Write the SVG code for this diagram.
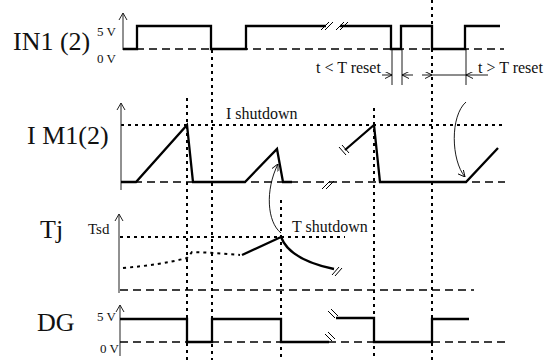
<svg xmlns="http://www.w3.org/2000/svg" width="551" height="360" viewBox="0 0 551 360">
<style>
text{font-family:"Liberation Serif","Times New Roman",serif;fill:#111}
.big{font-size:26px}
.sm{font-size:13px}
.md{font-size:16px}
.axis{stroke:#222;stroke-width:1;fill:none}
.sig{stroke:#000;stroke-width:2.3;fill:none;stroke-linejoin:miter}
.base{stroke:#000;stroke-width:1.7;stroke-dasharray:8,5;fill:none}
.dot{stroke:#000;stroke-width:2;stroke-dasharray:3,4;fill:none}
.thin{stroke:#000;stroke-width:0.9;fill:none}
.brk{stroke:#000;stroke-width:1;fill:none}
</style>
<defs>
<marker id="ah" viewBox="0 0 10 10" refX="10" refY="5" markerWidth="7" markerHeight="7" orient="auto" markerUnits="userSpaceOnUse">
<path d="M0,0 L10,5 L0,10" fill="none" stroke="#000" stroke-width="1.3"/>
</marker>
</defs>

<g id="guides">
<line class="dot" x1="187" y1="98" x2="187" y2="360"/>
<line class="dot" x1="212" y1="50" x2="212" y2="360"/>
<line class="dot" x1="281" y1="200" x2="281" y2="360"/>
<line class="dot" x1="374" y1="108" x2="374" y2="360"/>
<line class="dot" x1="432" y1="0" x2="432" y2="360"/>
<line class="dot" x1="121" y1="125" x2="505" y2="125"/>
<line class="dot" x1="120" y1="237" x2="345" y2="237"/>
</g>

<g id="in1">
<text class="big" x="13" y="50">IN1 (2)</text>
<text class="sm" x="97" y="36">5 V</text>
<text class="sm" x="97" y="63">0 V</text>
<line class="axis" x1="123" y1="50" x2="123" y2="13"/>
<path class="axis" d="M119,20 L123,13 L127,20"/>
<line class="base" x1="123" y1="49" x2="504" y2="49"/>
<path class="sig" d="M123,49 H137 V26 H211 V49 H246 V26 H326"/>
<path class="sig" d="M340,26 H391 V49 H401 V26 H432 V49 H465 V26 H500"/>
<path class="brk" d="M321,30 L329,22 M325,30 L333,22 M336,30 L344,22 M340,30 L348,22"/>
</g>

<g id="im1">
<text class="big" x="27" y="144">I M1(2)</text>
<text class="md" x="226" y="119">I shutdown</text>
<line class="axis" x1="121" y1="190" x2="121" y2="103"/>
<path class="axis" d="M117,110 L121,103 L125,110"/>
<line class="base" x1="121" y1="182" x2="505" y2="182"/>
<path class="sig" d="M121,182 H136 L187,125 L193,182 H245 L277,149 L283,182 H292"/>
<path class="sig" d="M345,150 L374,125 L380,182 H466 L498,148"/>
<path class="brk" d="M322,189 L330,181 M326,189 L334,181"/>
<path class="brk" d="M339,147 L346,155 M342,145 L349,153"/>
</g>

<g id="tj">
<text class="big" x="40" y="238">Tj</text>
<text class="md" x="88" y="234" style="font-size:15px">Tsd</text>
<text class="md" x="292" y="232">T shutdown</text>
<line class="axis" x1="119" y1="293" x2="119" y2="214"/>
<path class="axis" d="M115,221 L119,214 L123,221"/>
<line class="base" x1="120" y1="290" x2="474" y2="290"/>
<path class="dot" stroke-width="1.5" d="M123,268 Q160,265 187,258 L192,252 L215,253 L240,255"/>
<path class="sig" d="M242,255 L281,237 C286,250 300,262 334,269"/>
<path class="brk" d="M332,275 L339,267 M335,276 L342,268"/>
</g>

<g id="dg">
<text class="big" x="37" y="331">DG</text>
<text class="sm" x="97" y="321">5 V</text>
<text class="sm" x="100" y="353">0 V</text>
<line class="axis" x1="120" y1="356" x2="120" y2="305"/>
<path class="axis" d="M116,312 L120,305 L124,312"/>
<line class="base" x1="120" y1="342" x2="505" y2="342"/>
<path class="sig" d="M120,319 H187 V342 H212 V319 H281 V342 H329"/>
<path class="sig" d="M336,318 H374 V342 H432 V319 H469"/>
<path class="brk" d="M325,334 L332,341 M328,332 L335,339"/>
<path class="brk" d="M328,311 L335,318 M331,309 L338,316"/>
</g>

<g id="connectors">
<text class="md" x="316" y="73">t &lt; T reset</text>
<text class="md" x="478" y="73">t &gt; T reset</text>
<line class="thin" x1="392" y1="49" x2="392" y2="85"/>
<line class="thin" x1="402" y1="49" x2="402" y2="85"/>
<line class="thin" x1="466" y1="49" x2="466" y2="85"/>
<line class="thin" x1="382" y1="75" x2="392" y2="75" marker-end="url(#ah)"/>
<line class="thin" x1="413" y1="75" x2="402" y2="75" marker-end="url(#ah)"/>
<line class="thin" x1="422" y1="75" x2="432" y2="75" marker-end="url(#ah)"/>
<line class="thin" x1="432" y1="75" x2="466" y2="75"/>
<line class="thin" x1="488" y1="75" x2="466" y2="75" marker-end="url(#ah)"/>
<path class="thin" d="M466,102 C450,116 451,160 465,177" marker-end="url(#ah)"/>
<path class="thin" d="M281,233 C267,222 265,190 278,164" marker-end="url(#ah)"/>
</g>
</svg>
